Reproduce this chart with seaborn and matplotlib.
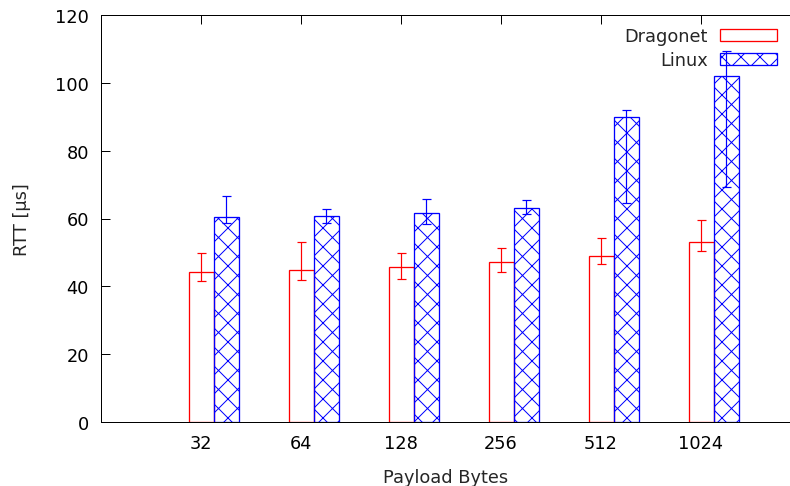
import numpy as np
import pandas as pd
import matplotlib
matplotlib.use("Agg")
import matplotlib.pyplot as plt
import matplotlib.patches as mpatches
import seaborn as sns

# Round-trip time measurements per payload size
payload = ["32", "64", "128", "256", "512", "1024"]
dragonet_mean = [44.3, 44.9, 45.7, 47.1, 49.0, 53.2]
dragonet_low = [41.6, 41.9, 42.2, 44.1, 46.6, 50.4]
dragonet_high = [49.7, 53.1, 49.8, 51.3, 54.3, 59.5]
linux_mean = [60.3, 60.6, 61.5, 63.2, 89.8, 101.9]
linux_low = [58.6, 58.7, 58.5, 61.3, 64.6, 69.4]
linux_high = [66.5, 62.8, 65.7, 65.4, 92.0, 109.3]
systems = ["Dragonet", "Linux"]
colors = {"Dragonet": "#ff0000", "Linux": "#0000ff"}

DPI = 114
W, H = 790, 487


def pt(px):
    return px * 72.0 / DPI


sns.set_style("white")
plt.rcParams["font.family"] = ["DejaVu Sans"]
plt.rcParams["hatch.linewidth"] = pt(1.0)

df = pd.DataFrame({
    "payload": payload * 2,
    "rtt": dragonet_mean + linux_mean,
    "system": ["Dragonet"] * len(payload) + ["Linux"] * len(payload),
})

fig = plt.figure(figsize=(W / DPI, H / DPI), dpi=DPI)
ax = fig.add_axes([101 / W, 1 - 423 / H, (W - 101) / W, (423 - 16) / H])

sns.barplot(data=df, x="payload", y="rtt", hue="system", order=payload,
            hue_order=systems, palette=colors, fill=False, width=0.5,
            errorbar=None, linewidth=pt(1.3), legend=False, ax=ax)

# style the bars and add asymmetric error bars at the bar centres
err = {
    "Dragonet": (dragonet_mean, dragonet_low, dragonet_high),
    "Linux": (linux_mean, linux_low, linux_high),
}
for container, name in zip(ax.containers, systems):
    mean, low, high = (np.array(v) for v in err[name])
    xs = [b.get_x() + b.get_width() / 2 for b in container]
    for b in container:
        b.set_edgecolor(colors[name])
        b.set_facecolor("none")
        b.set_linewidth(pt(1.3))
        if name == "Linux":
            b.set_hatch("xx")
    ax.errorbar(xs, mean, yerr=[mean - low, high - mean], fmt="none",
                ecolor=colors[name], elinewidth=pt(1.2), capsize=pt(4.5),
                capthick=pt(1.2), zorder=3)

dragonet_x = [b.get_x() + b.get_width() / 2 for b in ax.containers[0]]
ax.set_xticks(dragonet_x)
ax.set_xticklabels(payload)
ax.set_xlim(-1.125, -1.125 + (W - 101) / 100.0)
ax.set_ylim(0, 120)
ax.set_yticks(np.arange(0, 121, 20))

fs = pt(17.8)
ax.set_xlabel("Payload Bytes", fontsize=fs, labelpad=pt(16))
ax.set_ylabel("RTT [µs]", fontsize=fs, labelpad=pt(24))

for s in ["left", "top", "bottom"]:
    ax.spines[s].set_visible(True)
    ax.spines[s].set_color("black")
    ax.spines[s].set_linewidth(pt(1.0))
ax.spines["right"].set_visible(False)

ax.tick_params(axis="y", direction="in", length=pt(9), width=pt(1.0),
               pad=pt(12), labelsize=fs, left=True, right=False, colors="black")
ax.tick_params(axis="x", direction="in", length=pt(9), width=pt(1.0),
               pad=pt(12), labelsize=fs, bottom=False, top=True, colors="black")

handles = [
    mpatches.Patch(facecolor="none", edgecolor=colors["Dragonet"], linewidth=pt(1.3)),
    mpatches.Patch(facecolor="none", edgecolor=colors["Linux"], hatch="xx", linewidth=pt(1.3)),
]
ax.legend(handles, systems, loc="upper right", bbox_to_anchor=(777 / W, 1 - 28 / H),
          bbox_transform=fig.transFigure, frameon=False, markerfirst=False,
          fontsize=fs, handlelength=3.2, handleheight=0.65, handletextpad=0.7,
          labelspacing=0.33, borderpad=0, borderaxespad=0)

fig.savefig("out.png", dpi=DPI)
